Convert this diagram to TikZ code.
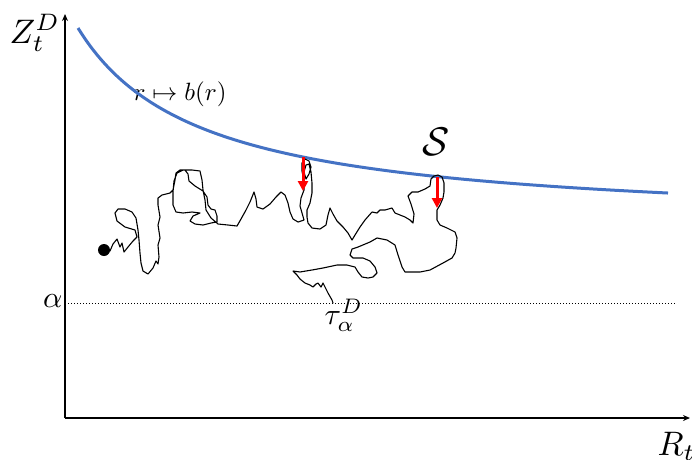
\documentclass[tikz,border=0pt]{standalone}
\usetikzlibrary{arrows.meta}
\definecolor{curveblue}{RGB}{68,114,196}
\tikzset{
  axis/.style={line width=2pt,-{Stealth[length=7pt,width=6pt]}},
  bcurve/.style={line width=3pt,curveblue},
  walk/.style={line width=1.1pt,black,line join=round,line cap=round},
  redarrow/.style={line width=3pt,red,-{Triangle[length=10pt,width=10pt]}},
  lab/.style={inner sep=0pt,anchor=base west}
}
\begin{document}
\begin{tikzpicture}[x=1pt,y=-1pt]
\path[use as bounding box] (0,0) rectangle (692,459);
% axes
\coordinate (O) at (65,418);
\coordinate (ytop) at (65,14);
\coordinate (xright) at (690,418);
\draw[axis] (O) -- (ytop);
\draw[axis] (O) -- (xright);
% labels
\node[lab,scale=3.4] (zlab) at (9,43) {$Z_t^D$};
\node[lab,scale=3.4] (rlab) at (657,455) {$R_t$};
\node[inner sep=0pt,anchor=base east,scale=3] (alab) at (63,307) {$\alpha$};
\node[lab,scale=3] (tlab) at (324,324) {$\tau_\alpha^D$};
\node[lab,scale=2.5] (blab) at (133,100) {$r\mapsto b(r)$};
\node[lab,scale=4] (slab) at (422,155) {$\mathcal{S}$};
% dotted level line
\coordinate (dl) at (65,303);
\coordinate (dr) at (676,303);
\draw[dotted,line width=1pt] (dl) -- (dr);
% boundary curve
\draw[bcurve] plot[domain=78:668,samples=90,smooth] (\x,{227.3-244.32/((\x+44.6)/100)});
% random walk
\draw[walk] (104,250) -- (110,251) -- (113,244) -- (117,239) -- (120,247) -- (122,243) -- (124,252) -- (128,247) -- (133,241) -- (137,237) -- (135,230) -- (125,227) -- (117,221) -- (115,213) -- (118,209) -- (125,209) -- (132,212) -- (136,218) -- (138,230) -- (139,240) -- (140,253) -- (141,263) -- (143,271) -- (148,274) -- (153,268) -- (156,261) -- (158,264) -- (159,257) -- (158,245) -- (160,238) -- (158,225) -- (160,217) -- (158,205) -- (158,198) -- (162,195) -- (170,193) -- (173,190)
 -- (175,180) -- (176,173) -- (180,170) -- (185,170) -- (188,174) -- (189,181) -- (195,186) -- (203,191) -- (207,197) -- (208,205) -- (211,209) -- (215,210) -- (217,216) -- (217,222) -- (211,223) -- (203,225) -- (195,224) -- (190,221) -- (193,216) -- (200,213) -- (192,212) -- (183,213) -- (176,212) -- (173,205) -- (173,192) -- (174,181) -- (177,173) -- (183,170) -- (192,170) -- (200,171) -- (202,180) -- (203,190) -- (205,200) -- (206,210) -- (211,218) -- (218,224) -- (228,225) -- (237,226)
 -- (241,219) -- (246,210) -- (250,202) -- (254,192) -- (256,199) -- (257,207) -- (263,209) -- (270,204) -- (276,197) -- (281,192) -- (285,195) -- (288,203) -- (290,212) -- (293,219) -- (298,222) -- (304,220) -- (302,213) -- (300,206) -- (301,198) -- (304,190) -- (304,181) -- (302,171) -- (302,163) -- (305,159) -- (309,161) -- (311,167) -- (309,174) -- (306,179) -- (304,172) -- (306,165) -- (309,164) -- (311,172) -- (312,183) -- (312,193) -- (310,203) -- (307,210) -- (307,217) -- (308,223) -- (312,228) -- (320,229) -- (326,225) -- (328,215) -- (330,208) -- (333,214) -- (337,221) -- (343,227) -- (348,233) -- (352,240) -- (355,235) -- (360,227) -- (365,220) -- (372,212) -- (377,213) -- (380,210) -- (385,210) -- (392,208) -- (395,213) -- (400,215) -- (405,217) -- (410,220) -- (413,223) -- (414,214) -- (411,204) -- (408,196) -- (412,192) -- (418,192) -- (425,189) -- (430,186) -- (431,179) -- (434,176) -- (438,175) -- (442,177) -- (444,183) -- (444,192) -- (443,198) -- (440,205) -- (437,210) -- (437,220) -- (440,225) -- (447,228) -- (455,232) -- (457,238) -- (456,248) -- (455,253) -- (452,258) -- (443,263) -- (430,270) -- (420,272) -- (405,272) -- (402,267) -- (398,255) -- (395,245) -- (387,240) -- (377,238) -- (370,242) -- (358,247) -- (352,249) -- (350,255) -- (353,258) -- (363,258) -- (370,261) -- (375,267) -- (377,273) -- (373,277) -- (368,278) -- (362,277) -- (358,272) -- (355,267) -- (347,265) -- (337,265) -- (323,268) -- (312,270) -- (300,272) -- (293,271) -- (297,275) -- (300,279) -- (305,283) -- (310,285) -- (313,287) -- (316,284) -- (318,283) -- (321,287) -- (323,283) -- (325,287) -- (328,293) -- (332,300) -- (333,303);
% start dot
\fill (104,250) circle (6pt);
% red arrows
\coordinate (a1s) at (303,157);
\coordinate (a1e) at (303,191);
\coordinate (a2s) at (437,177);
\coordinate (a2e) at (437,208);
\draw[redarrow] (a1s) -- (a1e);
\draw[redarrow] (a2s) -- (a2e);
\end{tikzpicture}
\end{document}
